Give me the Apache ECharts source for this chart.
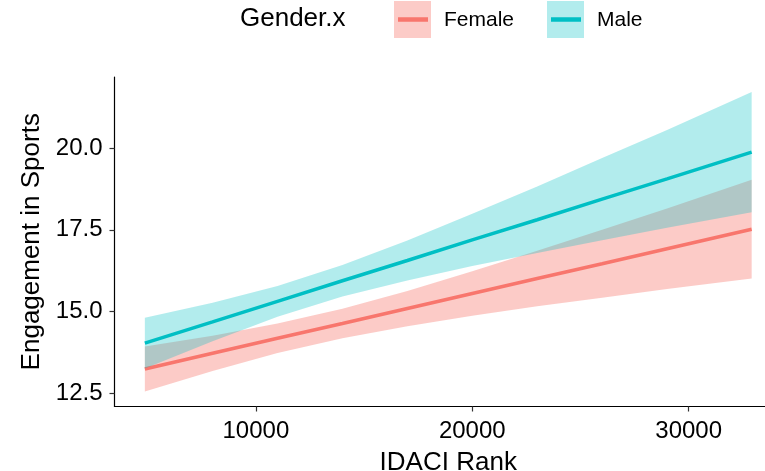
<!DOCTYPE html>
<html>
<head>
<meta charset="utf-8">
<script src="https://cdn.jsdelivr.net/npm/echarts@6/dist/echarts.min.js"></script>
<style>html,body{margin:0;padding:0;background:#fff;}#c{width:765px;height:471px;}</style>
</head>
<body>
<div id="c"></div>
<script>
const xs = [4870, 8000, 11000, 14000, 17000, 20000, 23000, 26000, 29000, 32910];
const femaleFit   = [13.24, 13.72, 14.18, 14.63, 15.09, 15.55, 16.01, 16.46, 16.92, 17.52];
const femaleLower = [12.55, 13.18, 13.73, 14.18, 14.55, 14.87, 15.16, 15.42, 15.69, 16.01];
const femaleUpper = [13.93, 14.26, 14.63, 15.08, 15.63, 16.23, 16.86, 17.50, 18.15, 19.03];
const maleFit   = [14.03, 14.68, 15.31, 15.94, 16.56, 17.19, 17.81, 18.44, 19.06, 19.88];
const maleLower = [13.25, 14.09, 14.84, 15.46, 15.95, 16.39, 16.79, 17.18, 17.56, 18.04];
const maleUpper = [14.81, 15.27, 15.78, 16.42, 17.17, 17.99, 18.83, 19.70, 20.56, 21.72];
const xTicks = [10000, 20000, 30000];
const yTicks = [12.5, 15.0, 17.5, 20.0];
const groups = ['Female', 'Male'];
const lineColors = ['#F8766D', '#00BFC4'];
const bandColors = ['rgba(248,118,109,0.38)', 'rgba(0,191,196,0.3)'];

const FONT = 'Liberation Sans';
const pairs = (a) => xs.map((x, i) => [x, a[i]]);

function bandSeries(name, lower, upper, color, z) {
  return {
    type: 'custom', name: name + ' CI', silent: true, z: z,
    coordinateSystem: 'cartesian2d',
    encode: { x: 0, y: [1, 2] },
    data: xs.map((x, i) => [x, lower[i], upper[i]]),
    renderItem: function (params, api) {
      if (params.dataIndex !== 0) return null;
      const pts = [];
      for (let i = 0; i < xs.length; i++) pts.push(api.coord([xs[i], upper[i]]));
      for (let i = xs.length - 1; i >= 0; i--) pts.push(api.coord([xs[i], lower[i]]));
      return { type: 'polygon', shape: { points: pts }, style: { fill: color } };
    }
  };
}

const series = [
  bandSeries('Female', femaleLower, femaleUpper, bandColors[0], 1),
  { type: 'line', name: 'Female', data: pairs(femaleFit), symbol: 'none',
    lineStyle: { color: lineColors[0], width: 3.5 }, z: 2 },
  bandSeries('Male', maleLower, maleUpper, bandColors[1], 3),
  { type: 'line', name: 'Male', data: pairs(maleFit), symbol: 'none',
    lineStyle: { color: lineColors[1], width: 3.5 }, z: 4 }
];

const legendX = [394, 547];
const graphic = [
  { type: 'text', left: 240, top: 6, style: { text: 'Gender.x', font: '26px "' + FONT + '"', fill: '#000' } }
];
groups.forEach((g, i) => {
  graphic.push({ type: 'rect', shape: { x: legendX[i], y: 1, width: 37, height: 37 }, style: { fill: bandColors[i] } });
  graphic.push({ type: 'line', shape: { x1: legendX[i] + 4, y1: 19.5, x2: legendX[i] + 34, y2: 19.5 }, style: { stroke: lineColors[i], lineWidth: 4.5 } });
  graphic.push({ type: 'text', x: legendX[i] + 50, y: 20, style: { text: g, font: '21px "' + FONT + '"', fill: '#000', textVerticalAlign: 'middle' } });
});

const chart = echarts.init(document.getElementById('c'), null, { renderer: 'canvas' });
chart.setOption({
  animation: false,
  backgroundColor: '#fff',
  textStyle: { fontFamily: FONT },
  grid: { left: 114.5, right: -17, top: 77, bottom: 64.5, containLabel: false, outerBoundsMode: 'none' },
  xAxis: {
    type: 'value', min: 3468, max: 34312,
    name: 'IDACI Rank', nameLocation: 'middle', nameGap: 43,
    nameTextStyle: { fontSize: 26, color: '#000', fontFamily: FONT },
    axisLine: { show: true, lineStyle: { color: '#000', width: 1.2 } },
    axisTick: { show: true, length: 5, customValues: xTicks, lineStyle: { color: '#333', width: 1.2 } },
    axisLabel: { customValues: xTicks, fontSize: 24, color: '#000', margin: 13, fontFamily: FONT, formatter: (v) => String(v) },
    splitLine: { show: false }
  },
  yAxis: {
    type: 'value', min: 12.09, max: 22.18,
    name: 'Engagement in Sports', nameLocation: 'middle', nameGap: 68, nameRotate: 90,
    nameTextStyle: { fontSize: 26, color: '#000', fontFamily: FONT },
    axisLine: { show: true, lineStyle: { color: '#000', width: 1.2 } },
    axisTick: { show: true, length: 5, customValues: yTicks, lineStyle: { color: '#333', width: 1.2 } },
    axisLabel: { customValues: yTicks, fontSize: 24, color: '#000', margin: 12, fontFamily: FONT, formatter: (v) => v.toFixed(1) },
    splitLine: { show: false }
  },
  graphic: graphic,
  series: series
});
</script>
</body>
</html>
